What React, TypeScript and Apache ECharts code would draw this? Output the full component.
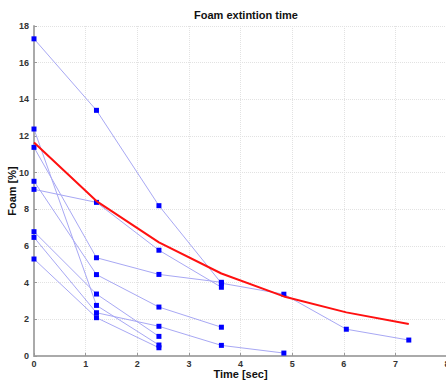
import React, { useEffect, useRef } from "react";
import * as echarts from "echarts";

const seriesA = [[0, 17.3], [1.21, 13.4], [2.42, 8.2], [3.63, 3.97], [4.84, 3.37], [6.05, 1.46], [7.26, 0.87]];
const seriesB = [[0, 9.09], [1.21, 8.38], [2.42, 5.77], [3.63, 3.75]];
const seriesC = [[0, 11.38], [1.21, 5.36], [2.42, 4.45], [3.63, 4.02]];
const seriesD = [[0, 9.53], [1.21, 4.44], [2.42, 2.67], [3.63, 1.57]];
const seriesE = [[0, 6.47], [1.21, 2.36], [2.42, 1.62], [3.63, 0.58], [4.84, 0.16]];
const seriesF = [[0, 12.38], [1.21, 2.76], [2.42, 0.6]];
const seriesG = [[0, 6.78], [1.21, 3.38], [2.42, 1.07]];
const seriesH = [[0, 5.29], [1.21, 2.09], [2.42, 0.45]];
const fitCurve = [[0, 11.65], [1.21, 8.45], [2.42, 6.2], [3.63, 4.5], [4.84, 3.25], [6.05, 2.38], [7.26, 1.75]];

const measured = [seriesA, seriesB, seriesC, seriesD, seriesE, seriesF, seriesG, seriesH];

const title = "Foam extintion time";
const xName = "Time [sec]";
const yName = "Foam [%]";

export default function App() {
  const ref = useRef<HTMLDivElement>(null);
  useEffect(() => {
    if (!ref.current) return;
    const chart = echarts.init(ref.current, null, { renderer: "svg" });
    const labelStyle = { color: "#333", fontSize: 9, fontWeight: "bold" as const, fontFamily: "Liberation Sans" };
    const series: any[] = measured.map((d, i) => ({
      type: "line",
      name: "s" + i,
      data: d,
      symbol: "rect",
      symbolSize: 5,
      itemStyle: { color: "#0000ff" },
      lineStyle: { color: "#a8a8f4", width: 1 },
      z: 2,
    }));
    series.push({
      type: "line",
      name: "fit",
      data: fitCurve,
      showSymbol: false,
      symbol: "none",
      lineStyle: { color: "#ff1010", width: 2 },
      z: 3,
    });
    chart.setOption({
      animation: false,
      backgroundColor: "#ffffff",
      title: {
        text: title,
        left: 241,
        top: 4,
        textAlign: "center",
        textStyle: { fontSize: 11, fontWeight: "bold", color: "#111", fontFamily: "Liberation Sans" },
      },
      grid: { left: 34, top: 26, width: 413, height: 330, containLabel: false, outerBoundsMode: "none" },
      xAxis: {
        type: "value",
        min: 0,
        max: 8,
        interval: 1,
        name: xName,
        nameLocation: "middle",
        nameGap: 12,
        nameMoveOverlap: false,
        nameTextStyle: { fontSize: 11, fontWeight: "bold", color: "#111", fontFamily: "Liberation Sans" },
        axisLine: { show: true, lineStyle: { color: "#aaaaaa", width: 2 } },
        axisTick: { show: true, inside: true, length: 3, lineStyle: { color: "#999" } },
        axisLabel: { ...labelStyle, margin: 3 },
        splitLine: { show: true, lineStyle: { color: "#e2e2e2", type: "dotted", width: 1 } },
      },
      yAxis: {
        type: "value",
        min: 0,
        max: 18,
        interval: 2,
        name: yName,
        nameLocation: "middle",
        nameGap: 17,
        nameMoveOverlap: false,
        nameRotate: 90,
        nameTextStyle: { fontSize: 11, fontWeight: "bold", color: "#111", fontFamily: "Liberation Sans" },
        axisLine: { show: true, lineStyle: { color: "#aaaaaa", width: 2 } },
        axisTick: { show: true, inside: true, length: 3, lineStyle: { color: "#999" } },
        axisLabel: { ...labelStyle, margin: 5 },
        splitLine: { show: true, lineStyle: { color: "#e2e2e2", type: "dotted", width: 1 } },
      },
      series,
    });
    return () => chart.dispose();
  }, []);
  return (
    <div
      ref={ref}
      style={{ position: "absolute", left: 0, top: 0, width: 446, height: 383, background: "#fff" }}
    />
  );
}
